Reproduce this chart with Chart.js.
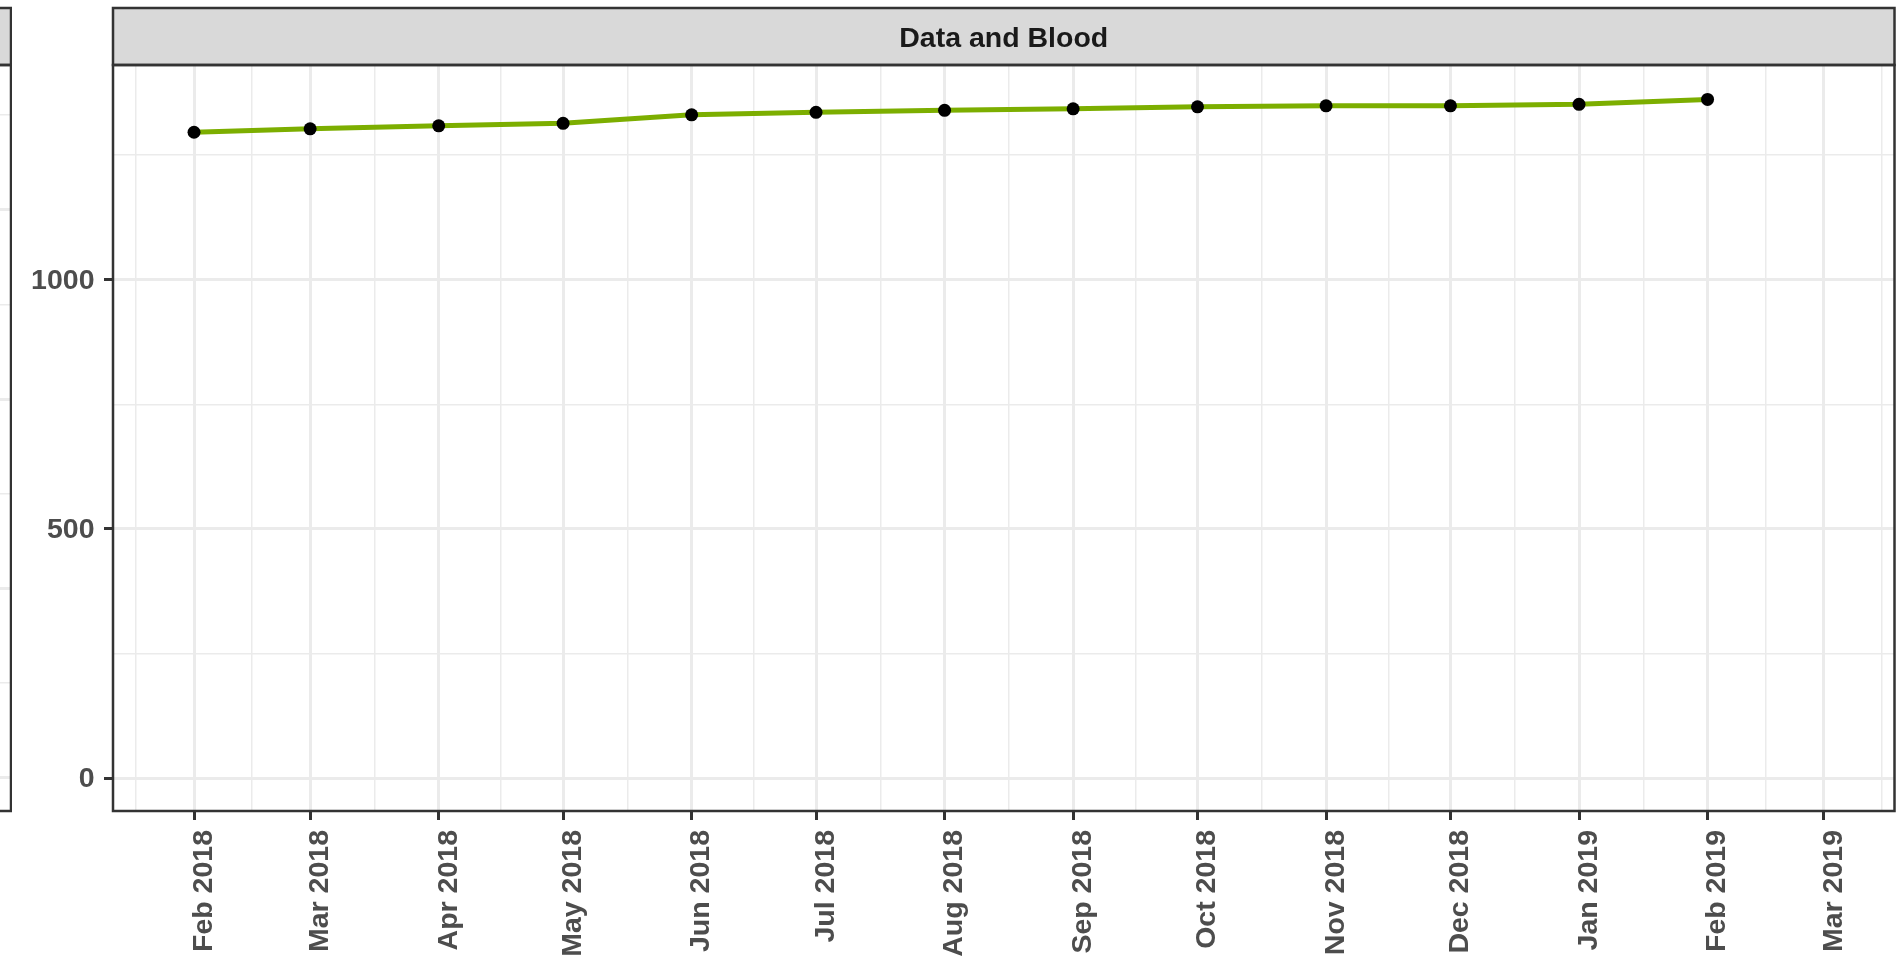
<!DOCTYPE html>
<html>
<head>
<meta charset="utf-8">
<script src="https://cdn.jsdelivr.net/npm/chart.js@4.4.1/dist/chart.umd.min.js"></script>
<style>
html, body { margin: 0; padding: 0; background: #ffffff; overflow: hidden; }
#wrap { position: relative; width: 1901px; height: 960px; overflow: hidden; }
canvas { position: absolute; top: 0; }
#main { left: 0; }
#side { left: -400px; }
</style>
</head>
<body>
<div id="wrap">
  <canvas id="main" width="1901" height="960"></canvas>
  <canvas id="side" width="412" height="960"></canvas>
</div>
<script>
// ---- data ----
const panelTitle = 'Data and Blood';
const monthDates = ['2018-02-01','2018-03-01','2018-04-01','2018-05-01','2018-06-01','2018-07-01',
  '2018-08-01','2018-09-01','2018-10-01','2018-11-01','2018-12-01','2019-01-01','2019-02-01'];
const bloodValues = [1296, 1303, 1309, 1314, 1331, 1336, 1340, 1343, 1347, 1349, 1349, 1352, 1362];

const xTickDates = ['2018-02-01','2018-03-01','2018-04-01','2018-05-01','2018-06-01','2018-07-01',
  '2018-08-01','2018-09-01','2018-10-01','2018-11-01','2018-12-01','2019-01-01','2019-02-01','2019-03-01'];
const xTickLabels = ['Feb 2018','Mar 2018','Apr 2018','May 2018','Jun 2018','Jul 2018','Aug 2018',
  'Sep 2018','Oct 2018','Nov 2018','Dec 2018','Jan 2019','Feb 2019','Mar 2019'];
const xLimits = ['2018-01-12T11:00:00Z', '2019-03-18T02:00:00Z'];

const yMajorTicks = [0, 500, 1000];
const yMinorTicks = [250, 750, 1250];
const yLimits = [-66, 1431];

// neighbouring (cropped) panel on the left
const sideMajorTicks = [0, 1, 2, 3];
const sideMinorTicks = [0.5, 1.5, 2.5, 3.5];
const sideLimits = [-0.176, 3.765];

// ---- helpers ----
const toMs = s => Date.parse(s.length > 10 ? s : s + 'T00:00:00Z');
const FONT = '"Liberation Sans", Arial, Helvetica, sans-serif';
const GRID = '#EBEBEB';
const DARK = '#333333';

function xTicksWithMinor() {
  const majors = xTickDates.map(toMs);
  const minors = [];
  minors.push(majors[0] - (majors[1] - majors[0]) / 2);
  for (let i = 0; i < majors.length - 1; i++) minors.push((majors[i] + majors[i + 1]) / 2);
  const n = majors.length;
  minors.push(majors[n - 1] + (majors[n - 1] - majors[n - 2]) / 2);
  const lo = toMs(xLimits[0]), hi = toMs(xLimits[1]);
  const all = majors.map(v => ({ value: v, minor: false }))
    .concat(minors.filter(v => v >= lo && v <= hi).map(v => ({ value: v, minor: true })));
  all.sort((a, b) => a.value - b.value);
  return all;
}
function yTicksWithMinor(maj, min) {
  const all = maj.map(v => ({ value: v, minor: false })).concat(min.map(v => ({ value: v, minor: true })));
  all.sort((a, b) => a.value - b.value);
  return all;
}

const panelPlugin = {
  id: 'panel',
  afterDraw(chart, args, opts) {
    const { ctx, chartArea: a } = chart;
    const top = opts.stripTop;
    ctx.save();
    ctx.fillStyle = '#D9D9D9';
    ctx.fillRect(a.left, top, a.right - a.left, a.top - top);
    ctx.strokeStyle = DARK;
    ctx.lineWidth = 2.5;
    ctx.strokeRect(a.left, top, a.right - a.left, a.top - top);
    if (opts.text) {
      ctx.fillStyle = '#1A1A1A';
      ctx.font = 'bold 28.5px ' + FONT;
      ctx.textAlign = 'center';
      ctx.textBaseline = 'middle';
      ctx.fillText(opts.text, (a.left + a.right) / 2, (top + a.top) / 2 + 3);
    }
    ctx.strokeRect(a.left, a.top, a.right - a.left, a.bottom - a.top);
    ctx.restore();
  }
};

const tickFont = { family: FONT, weight: 'bold', size: 28.5 };

new Chart(document.getElementById('main'), {
  type: 'line',
  data: {
    datasets: [{
      data: monthDates.map((d, i) => ({ x: toMs(d), y: bloodValues[i] })),
      borderColor: '#7CAE00',
      borderWidth: 5,
      pointRadius: 6.5,
      pointHoverRadius: 6.5,
      pointBackgroundColor: '#000000',
      pointBorderWidth: 0,
      tension: 0,
      fill: false
    }]
  },
  options: {
    responsive: false,
    animation: false,
    devicePixelRatio: 1,
    events: [],
    layout: { padding: { top: 65, right: 1, bottom: 0, left: 0 } },
    plugins: {
      legend: { display: false },
      tooltip: { enabled: false },
      panel: { stripTop: 8, text: panelTitle }
    },
    scales: {
      x: {
        type: 'linear',
        min: toMs(xLimits[0]),
        max: toMs(xLimits[1]),
        afterBuildTicks: s => { s.ticks = xTicksWithMinor(); },
        afterFit: s => { s.height = 149; s.paddingLeft = 0; s.paddingRight = 0; },
        border: { display: false },
        grid: {
          color: GRID,
          lineWidth: c => (c.tick && c.tick.minor ? 1.5 : 3),
          drawTicks: true,
          tickLength: 9,
          tickWidth: 3,
          tickColor: c => (c.tick && c.tick.minor ? 'rgba(0,0,0,0)' : DARK)
        },
        ticks: {
          autoSkip: false,
          minRotation: 90,
          maxRotation: 90,
          padding: 10,
          labelOffset: 10,
          color: '#4D4D4D',
          font: tickFont,
          callback: v => {
            const i = xTickDates.map(toMs).indexOf(v);
            return i >= 0 ? xTickLabels[i] : '';
          }
        }
      },
      y: {
        type: 'linear',
        min: yLimits[0],
        max: yLimits[1],
        afterBuildTicks: s => { s.ticks = yTicksWithMinor(yMajorTicks, yMinorTicks); },
        afterFit: s => { s.width = 113; s.paddingTop = 0; s.paddingBottom = 0; },
        border: { display: false },
        grid: {
          color: GRID,
          lineWidth: c => (c.tick && c.tick.minor ? 1.5 : 3),
          drawTicks: true,
          tickLength: 9,
          tickWidth: 3,
          tickColor: c => (c.tick && c.tick.minor ? 'rgba(0,0,0,0)' : DARK)
        },
        ticks: {
          padding: 9.5,
          labelOffset: 1.5,
          color: '#4D4D4D',
          font: tickFont,
          callback: v => (yMajorTicks.includes(v) ? String(v) : '')
        }
      }
    }
  },
  plugins: [panelPlugin]
});

new Chart(document.getElementById('side'), {
  type: 'line',
  data: { datasets: [{ data: [] }] },
  options: {
    responsive: false,
    animation: false,
    devicePixelRatio: 1,
    events: [],
    layout: { padding: { top: 65, right: 1, bottom: 149, left: 0 } },
    plugins: {
      legend: { display: false },
      tooltip: { enabled: false },
      panel: { stripTop: 8, text: '' }
    },
    scales: {
      x: { type: 'linear', display: false, min: 0, max: 1 },
      y: {
        type: 'linear',
        min: sideLimits[0],
        max: sideLimits[1],
        afterBuildTicks: s => { s.ticks = yTicksWithMinor(sideMajorTicks, sideMinorTicks); },
        afterFit: s => { s.width = 0; s.paddingTop = 0; s.paddingBottom = 0; },
        border: { display: false },
        grid: {
          color: GRID,
          lineWidth: c => (c.tick && c.tick.minor ? 1.5 : 3),
          drawTicks: false
        },
        ticks: { display: false }
      }
    }
  },
  plugins: [panelPlugin]
});
</script>
</body>
</html>
